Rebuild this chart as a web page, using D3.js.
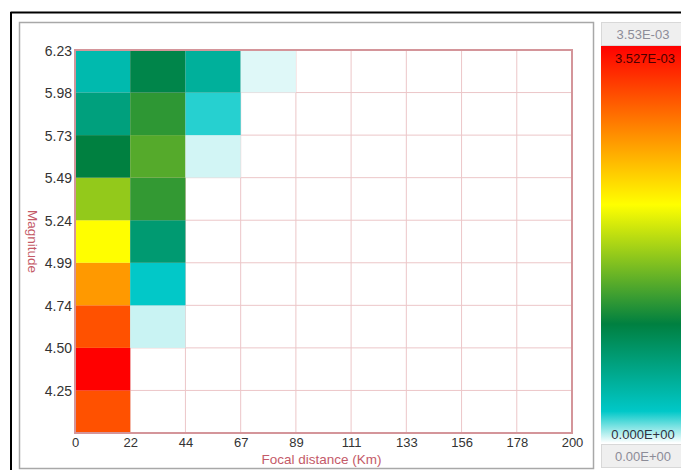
<!DOCTYPE html>
<html>
<head>
<meta charset="utf-8">
<script src="https://cdn.jsdelivr.net/npm/d3@7"></script>
<style>
  html, body { margin: 0; padding: 0; background: #ffffff; }
  svg { display: block; }
  text { font-family: "Liberation Sans", Arial, sans-serif; }
</style>
</head>
<body>
<svg id="chart" width="681" height="470"></svg>
<script>
// ---- data ----
const xEdges = [0, 22.22, 44.44, 66.67, 88.89, 111.11, 133.33, 155.56, 177.78, 200];
const xTickLabels = ["0", "22", "44", "67", "89", "111", "133", "156", "178", "200"];
const yEdges = [4.00, 4.2478, 4.4956, 4.7433, 4.9911, 5.2389, 5.4867, 5.7344, 5.9822, 6.23];
const yTickLabels = ["", "4.25", "4.50", "4.74", "4.99", "5.24", "5.49", "5.73", "5.98", "6.23"];
// values (x 1E-03), rows bottom -> top, one array per distance bin
const col0_22   = [3.08, 3.527, 3.08, 2.68, 2.12, 1.67, 1.06, 0.71, 0.43];
const col22_44  = [0, 0, 0.06, 0.28, 0.78, 1.27, 1.41, 1.25, 1.00];
const col44_67  = [0, 0, 0, 0, 0, 0, 0.05, 0.24, 0.54];
const col67_89  = [0, 0, 0, 0, 0, 0, 0, 0, 0.035];
const col89_111 = [0, 0, 0, 0, 0, 0, 0, 0, 0];
const col111_133 = [0, 0, 0, 0, 0, 0, 0, 0, 0];
const col133_156 = [0, 0, 0, 0, 0, 0, 0, 0, 0];
const col156_178 = [0, 0, 0, 0, 0, 0, 0, 0, 0];
const col178_200 = [0, 0, 0, 0, 0, 0, 0, 0, 0];
const columns = [col0_22, col22_44, col44_67, col67_89, col89_111, col111_133, col133_156, col156_178, col178_200];
const vMax = 3.527;
const colorStops = [0, 0.08, 0.30, 0.60, 1.0];
const colorList = ["#ffffff", "#00c8c8", "#008040", "#ffff00", "#ff0000"];
const xTitle = "Focal distance (Km)";
const yTitle = "Magnitude";
const cbTopBox = "3.53E-03", cbTopLabel = "3.527E-03", cbBottomLabel = "0.000E+00", cbBottomBox = "0.00E+00";

// ---- layout ----
const svg = d3.select("#chart");
const plot = { left: 75, right: 572, top: 50, bottom: 433 };

const x = d3.scaleLinear().domain([0, 200]).range([plot.left, plot.right]);
const y = d3.scaleLinear().domain([4.0, 6.23]).range([plot.bottom, plot.top]);
const color = d3.scaleLinear().domain(colorStops.map(f => f * vMax)).range(colorList);

// outer window frame
svg.append("line").attr("x1", 10.5).attr("x2", 681).attr("y1", 12.5).attr("y2", 12.5)
  .attr("stroke", "#000").attr("stroke-width", 2);
svg.append("line").attr("x1", 11).attr("x2", 11).attr("y1", 12).attr("y2", 470)
  .attr("stroke", "#000").attr("stroke-width", 2);
// panel
svg.append("rect").attr("x", 19.5).attr("y", 22.5).attr("width", 574).attr("height", 446)
  .attr("fill", "#fff").attr("stroke", "#a8a8a8").attr("stroke-width", 1.5);

// grid
const g = svg.append("g");
g.selectAll("line.vg").data(xEdges.slice(1, -1)).join("line")
  .attr("x1", d => x(d)).attr("x2", d => x(d)).attr("y1", plot.top).attr("y2", plot.bottom)
  .attr("stroke", "#ecc6c8").attr("stroke-width", 1);
g.selectAll("line.hg").data(yEdges.slice(1, -1)).join("line")
  .attr("y1", d => y(d)).attr("y2", d => y(d)).attr("x1", plot.left).attr("x2", plot.right)
  .attr("stroke", "#ecc6c8").attr("stroke-width", 1);

// cells
const cells = [];
columns.forEach((col, i) => col.forEach((v, j) => {
  if (v > 0) cells.push({ x0: xEdges[i], x1: xEdges[i + 1], y0: yEdges[j], y1: yEdges[j + 1], v });
}));
g.selectAll("rect.cell").data(cells).join("rect")
  .attr("x", d => x(d.x0)).attr("y", d => y(d.y1))
  .attr("width", d => x(d.x1) - x(d.x0)).attr("height", d => y(d.y0) - y(d.y1))
  .attr("fill", d => color(d.v));

// plot border
svg.append("rect").attr("x", plot.left).attr("y", plot.top)
  .attr("width", plot.right - plot.left).attr("height", plot.bottom - plot.top)
  .attr("fill", "none").attr("stroke", "#d4959a").attr("stroke-width", 2);

// axes labels
const xAxis = d3.axisBottom(x).tickValues(xEdges).tickSize(0).tickPadding(0)
  .tickFormat((d, i) => xTickLabels[i]);
const xa = svg.append("g").attr("transform", `translate(0,${plot.bottom})`).call(xAxis);
xa.select(".domain").remove();
xa.selectAll("text").attr("y", 14).attr("dy", 0).attr("font-size", 13)
  .attr("fill", "#333").attr("font-family", "Liberation Sans, Arial, sans-serif");

const yAxis = d3.axisLeft(y).tickValues(yEdges).tickSize(0).tickPadding(0)
  .tickFormat((d, i) => yTickLabels[i]);
const ya = svg.append("g").attr("transform", `translate(${plot.left - 3},0)`).call(yAxis);
ya.select(".domain").remove();
ya.selectAll("text").attr("dy", "0.36em").attr("font-size", 14)
  .attr("fill", "#333").attr("font-family", "Liberation Sans, Arial, sans-serif");

svg.append("text").attr("x", (plot.left + plot.right) / 2 - 2).attr("y", 463.5)
  .attr("text-anchor", "middle").attr("font-size", 13.5).attr("fill", "#c45a68").text(xTitle);
svg.append("text").attr("transform", `translate(28,${(plot.top + plot.bottom) / 2}) rotate(90)`)
  .attr("text-anchor", "middle").attr("font-size", 13.5).attr("fill", "#c45a68").text(yTitle);

// color bar
const cb = { left: 601, right: 690, top: 46, bottom: 443 };
const defs = svg.append("defs");
const grad = defs.append("linearGradient").attr("id", "cbgrad")
  .attr("x1", 0).attr("x2", 0).attr("y1", 1).attr("y2", 0);
grad.selectAll("stop").data(colorStops).join("stop")
  .attr("offset", d => d).attr("stop-color", (d, i) => colorList[i]);
svg.append("rect").attr("x", cb.left).attr("y", cb.top).attr("width", cb.right - cb.left)
  .attr("height", cb.bottom - cb.top).attr("fill", "url(#cbgrad)");
// boxes
svg.append("rect").attr("x", cb.left + 0.5).attr("y", 22.5).attr("width", 90).attr("height", 23)
  .attr("fill", "#efefef").attr("stroke", "#d8d8d8");
svg.append("rect").attr("x", cb.left + 0.5).attr("y", 444.5).attr("width", 90).attr("height", 23)
  .attr("fill", "#efefef").attr("stroke", "#d8d8d8");
const cbx = 643;
svg.append("text").attr("x", cbx).attr("y", 39).attr("text-anchor", "middle")
  .attr("font-size", 13).attr("fill", "#8c8c98").text(cbTopBox);
svg.append("text").attr("x", cbx + 2).attr("y", 63).attr("text-anchor", "middle")
  .attr("font-size", 13).attr("fill", "#4a0000").text(cbTopLabel);
svg.append("text").attr("x", cbx).attr("y", 439).attr("text-anchor", "middle")
  .attr("font-size", 13).attr("fill", "#303040").text(cbBottomLabel);
svg.append("text").attr("x", cbx).attr("y", 461).attr("text-anchor", "middle")
  .attr("font-size", 13).attr("fill", "#8c8c98").text(cbBottomBox);
</script>
</body>
</html>
